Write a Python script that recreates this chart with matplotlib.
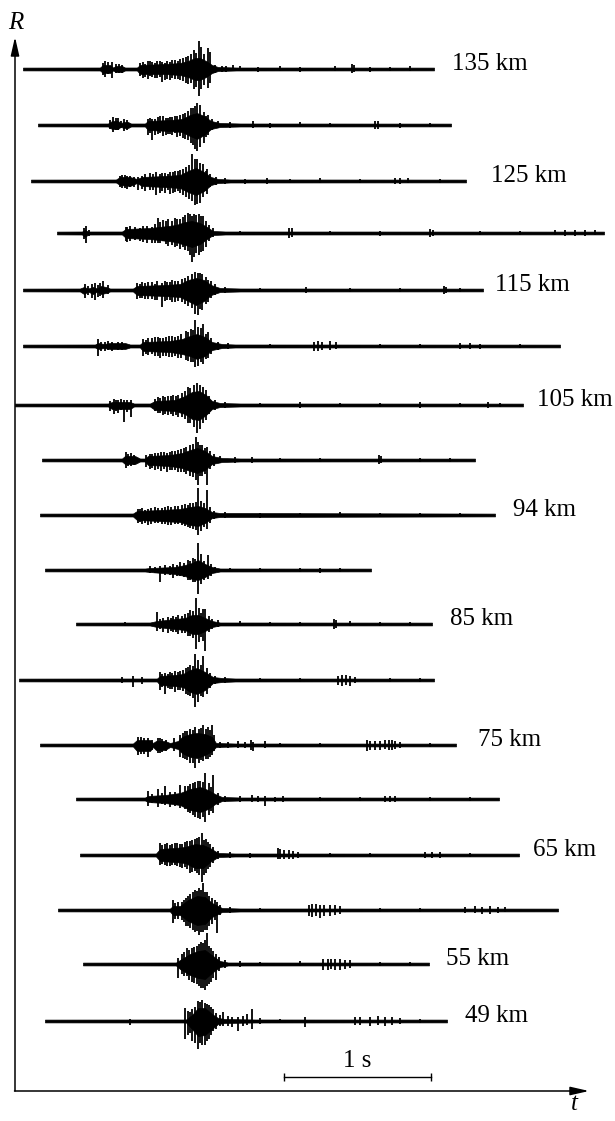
import matplotlib
matplotlib.use("Agg")
import matplotlib.pyplot as plt
import numpy as np

# ---------------- data (time in chart units: 147 units = 1 s; amplitude in trace units) ----
UNITS_PER_S = 147

labels = ["135 km", None, "125 km", None, "115 km", None, "105 km", None, "94 km",
          None, "85 km", None, "75 km", None, "65 km", None, "55 km", "49 km"]

t_start = [23, 38, 31, 57, 23, 23, 15, 42, 40, 45, 76, 19, 40, 76, 80, 58, 83, 45]
t_end = [434, 451, 466, 604, 483, 560, 523, 475, 495, 371, 432, 434, 456, 499, 519, 558, 429, 447]

# dense core envelope (t, up, down) of each trace
env_01 = [(100,1.5,1.5),(103,4,4),(110,4,4),(113,1.5,1.5),(116,3,3),(122,3,3),(125,1.5,1.5),(137,1.5,1.5),(140,4,5),(165,5,5),(180,6,6),(188,8,8),(195,11,11),(200,11,11),(206,8,8),(212,4,4),(218,2,2),(236,1.5,1.5)]
env_02 = [(108,1.5,1.5),(112,4,4),(118,4,4),(121,1.5,1.5),(123,3,3),(128,3,3),(131,1.5,1.5),(145,1.5,1.5),(148,4,5),(170,5,6),(182,6,7),(190,10,11),(197,12,14),(204,9,10),(211,4,4),(220,2,2),(240,1.5,1.5)]
env_03 = [(116,1.5,1.5),(120,4,4),(130,4,5),(137,2,2),(142,4,5),(165,5,6),(180,6,7),(188,10,11),(196,13,14),(204,9,10),(211,4,4),(218,2,2),(230,1.5,1.5)]
env_04 = [(82,1.5,1.5),(85,3,4),(88,1.5,1.5),(122,1.5,1.5),(126,4,5),(150,5,6),(168,7,8),(176,8,9),(185,11,12),(192,12,14),(200,10,11),(207,6,6),(213,2,2),(225,1.5,1.5)]
env_05 = [(80,1.5,1.5),(84,3,4),(88,1.5,1.5),(93,3,4),(97,1.5,1.5),(101,4,4),(106,3,3),(110,1.5,1.5),(133,1.5,1.5),(137,4,5),(165,5,6),(180,6,7),(188,10,11),(196,12,15),(204,10,11),(211,5,5),(220,2,2),(240,1.5,1.5)]
env_06 = [(95,1.5,1.5),(98,3,3),(104,2,2),(110,3,3),(125,3,3),(130,1.5,1.5),(140,1.5,1.5),(143,4,5),(170,5,6),(182,7,8),(190,10,10),(197,12,13),(205,9,10),(212,4,4),(222,2,2),(235,1.5,1.5)]
env_07 = [(108,1.5,1.5),(112,3,4),(130,3,4),(134,1.5,1.5),(150,1.5,1.5),(155,4,5),(175,5,6),(185,9,9),(192,13,14),(199,14,15),(206,10,10),(212,4,4),(220,2,2),(240,1.5,1.5)]
env_08 = [(122,1.5,1.5),(125,4,4),(135,4,4),(140,1.5,1.5),(145,1.5,1.5),(148,4,5),(170,5,6),(182,7,8),(190,10,11),(197,12,13),(205,9,10),(212,4,4),(222,2,2),(240,1.5,1.5)]
env_09 = [(133,1.5,1.5),(137,4,5),(160,5,6),(180,6,7),(190,8,10),(198,9,11),(205,7,8),(212,3,3),(220,2,2)]
env_10 = [(145,1.5,1.5),(150,2,2),(175,3,4),(185,5,6),(192,7,9),(198,10,10),(205,6,7),(212,3,3),(220,1.5,1.5)]
env_11 = [(150,1.5,1.5),(157,3,3),(175,5,5),(185,6,6),(192,9,10),(198,9,10),(205,6,7),(212,3,3),(220,1.5,1.5)]
env_12 = [(120,1.5,1.5),(157,1.5,1.5),(160,4,5),(175,5,6),(183,6,7),(190,10,12),(197,12,14),(205,8,10),(213,3,3),(222,2,2),(235,1.5,1.5)]
env_13 = [(133,1.5,1.5),(137,5,6),(150,5,6),(153,2,2),(156,4,5),(165,4,5),(170,2,2),(178,4,4),(182,8,8),(190,11,12),(197,12,13),(205,11,10),(212,8,6),(216,2,2),(235,1.5,1.5)]
env_14 = [(145,1.5,1.5),(148,3,3),(165,4,4),(180,6,6),(190,10,11),(200,12,13),(208,9,10),(215,5,5),(222,2,2),(240,1.5,1.5)]
env_15 = [(156,1.5,1.5),(160,6,6),(175,7,7),(185,8,8),(195,11,13),(203,10,13),(210,7,7),(218,2,2),(235,1.5,1.5)]
env_16 = [(170,1.5,1.5),(173,4,5),(180,4,5),(188,10,11),(197,14,15),(205,13,14),(212,7,7),(222,2,2),(240,1.5,1.5)]
env_17 = [(176,1.5,1.5),(180,4,5),(190,10,11),(198,13,14),(205,14,15),(213,8,8),(220,3,3),(228,1.5,1.5)]
env_18 = [(186,1.5,1.5),(192,6,8),(198,13,15),(205,13,14),(212,7,8),(218,3,3),(225,2,2),(255,1.5,1.5)]

# individual oscillation peaks (t, up, down)
spk_01 = [(103,6,6),(105,8,8),(108,7,5),(112,7,9),(116,5,4),(119,5,4),(122,4,4),(140,6,7),(143,7,9),(145,5,8),(148,8,10),(150,8,7),(152,7,8),(155,6,9),(157,8,9),(160,8,8),(162,7,13),(165,6,11),(167,8,10),(170,7,11),(172,9,9),(175,9,10),(178,8,10),(180,10,11),(183,11,12),(186,12,14),(188,13,15),(191,15,14),(194,19,20),(196,16,18),(199,28,27),(201,22,20),(204,15,16),(208,21,19),(210,17,14),(215,4,4),(222,3,3),(226,3,3),(233,4,2),(240,3,2),(258,2,3),(280,3,2),(300,2,3),(335,3,2),(352,5,4),(354,4,3),(370,2,3),(390,2,2),(410,3,2)]
spk_02 = [(110,5,4),(113,8,7),(116,7,5),(118,7,5),(121,4,3),(124,6,6),(127,5,5),(148,6,10),(150,7,8),(152,6,15),(155,6,10),(158,8,9),(160,9,8),(163,9,11),(166,7,10),(168,7,9),(170,8,9),(172,8,10),(175,9,8),(177,9,12),(180,10,11),(183,11,13),(185,12,14),(188,14,15),(191,17,18),(193,17,20),(195,19,24),(197,22,26),(200,20,22),(204,13,18),(206,9,12),(208,10,10),(212,6,5),(218,4,3),(230,3,3),(253,4,3),(270,2,3),(300,3,2),(330,2,2),(375,4,4),(378,4,4),(400,2,3),(430,2,2)]
spk_03 = [(120,5,6),(122,6,7),(125,6,7),(127,5,8),(130,5,6),(134,4,6),(138,4,9),(142,5,8),(145,7,10),(150,8,9),(153,7,9),(156,9,14),(160,7,12),(162,8,10),(165,8,12),(168,7,9),(170,9,13),(173,9,12),(175,10,11),(178,10,10),(180,11,12),(183,12,14),(186,14,16),(189,16,18),(192,27,20),(195,22,24),(197,22,23),(200,18,22),(203,17,16),(206,10,10),(207,12,13),(210,7,6),(216,4,4),(225,3,3),(245,2,3),(267,3,3),(290,2,2),(320,3,2),(360,2,2),(395,3,3),(400,3,3),(408,3,2),(440,2,2)]
spk_04 = [(84,5,6),(86,7,10),(89,3,3),(126,6,8),(127,6,9),(130,7,8),(135,6,7),(140,5,8),(143,7,9),(147,7,10),(152,6,10),(155,9,10),(158,15,10),(160,11,10),(163,13,8),(166,12,11),(168,14,13),(172,12,12),(175,15,14),(177,14,13),(180,14,16),(183,16,14),(185,18,17),(188,20,18),(190,19,22),(192,17,29),(194,19,24),(196,18,20),(199,19,22),(201,17,19),(203,17,18),(206,12,14),(209,8,8),(213,5,4),(240,2,2),(289,5,5),(292,5,4),(330,2,2),(380,2,3),(430,4,4),(433,3,3),(480,2,2),(520,2,2),(555,3,2),(565,3,3),(575,3,3),(585,3,3),(595,3,2)]
spk_05 = [(85,6,8),(88,4,5),(92,6,8),(95,7,10),(98,5,7),(100,7,6),(103,9,8),(108,5,4),(137,7,9),(140,6,8),(142,8,8),(145,7,9),(148,8,9),(152,8,9),(155,6,10),(157,9,10),(162,7,17),(165,9,11),(167,8,10),(170,8,10),(172,10,12),(175,9,12),(178,9,11),(182,11,12),(185,12,14),(188,14,16),(192,16,18),(195,18,24),(198,17,25),(200,17,19),(202,16,20),(206,13,14),(208,10,12),(211,9,8),(215,6,5),(225,3,3),(260,2,2),(306,3,3),(350,2,2),(400,2,2),(444,4,4),(446,3,3),(460,2,2)]
spk_06 = [(98,7,10),(101,4,5),(105,4,5),(108,5,4),(112,4,5),(118,4,4),(122,4,4),(143,7,10),(146,6,8),(148,8,9),(152,8,8),(155,9,10),(158,9,10),(160,8,12),(163,8,10),(166,9,10),(169,10,11),(172,10,11),(175,9,10),(178,10,12),(181,12,12),(186,15,14),(188,14,15),(191,17,16),(193,16,16),(195,26,21),(198,19,20),(201,18,16),(203,22,18),(206,12,13),(208,14,12),(211,8,8),(218,4,4),(228,3,3),(270,2,2),(314,4,5),(318,5,5),(322,4,4),(330,5,4),(336,4,3),(380,2,2),(420,2,2),(460,3,3),(470,3,3),(480,2,3),(520,2,2)]
spk_07 = [(110,4,6),(114,6,9),(116,5,6),(118,5,8),(121,6,5),(124,5,17),(127,5,7),(131,5,12),(155,6,6),(158,8,8),(160,7,8),(163,9,10),(165,8,9),(168,9,10),(171,9,9),(173,10,11),(176,9,10),(178,10,12),(182,12,12),(185,14,14),(188,18,18),(190,17,18),(194,20,22),(197,22,28),(200,20,24),(203,18,18),(206,15,15),(209,9,9),(215,5,5),(225,3,3),(260,2,2),(300,3,3),(340,2,2),(380,2,2),(420,3,3),(460,2,2),(488,3,3),(500,2,2)]
spk_08 = [(126,8,8),(128,6,6),(131,7,6),(134,5,5),(146,5,7),(150,6,9),(152,6,8),(155,7,10),(158,7,9),(161,8,11),(164,8,9),(167,7,12),(170,8,10),(172,9,10),(175,9,10),(178,10,12),(181,11,12),(184,12,12),(186,13,14),(190,15,16),(193,16,17),(196,23,20),(198,18,25),(200,15,16),(202,15,16),(205,12,14),(207,13,25),(210,9,9),(214,6,6),(220,4,3),(235,3,3),(252,3,3),(280,2,2),(320,2,2),(379,5,4),(381,4,3),(420,2,2),(450,2,2)]
spk_09 = [(138,6,8),(140,6,7),(142,7,9),(145,5,8),(148,6,10),(151,7,9),(155,8,8),(158,7,8),(162,7,9),(165,8,9),(168,9,10),(171,8,10),(175,9,9),(178,9,9),(182,10,10),(185,11,11),(188,10,12),(190,12,13),(193,12,14),(196,13,15),(198,27,20),(201,14,16),(204,12,12),(207,25,14),(210,8,8),(214,4,4),(225,3,3),(260,2,3),(300,2,2),(340,3,2),(380,2,2),(420,2,2),(460,2,2)]
spk_10 = [(150,4,3),(155,3,3),(160,4,12),(165,5,5),(170,4,5),(173,6,8),(177,5,6),(180,8,6),(184,7,7),(188,10,10),(190,9,10),(193,12,12),(195,11,12),(198,27,24),(201,16,14),(204,9,10),(208,15,9),(211,6,6),(215,3,3),(230,2,2),(260,2,2),(300,2,2),(320,2,3),(340,2,2)]
spk_11 = [(125,2,2),(157,12,7),(160,5,5),(163,6,8),(168,7,9),(171,6,7),(173,8,8),(176,7,8),(178,9,10),(182,8,9),(185,10,9),(188,11,12),(190,14,12),(193,13,14),(196,26,25),(199,16,18),(201,11,13),(203,15,17),(205,15,27),(209,8,8),(212,5,5),(218,4,3),(240,3,2),(270,2,2),(300,2,2),(334,5,5),(336,4,4),(350,3,2),(380,2,2),(410,2,2)]
spk_12 = [(122,3,3),(133,4,7),(142,3,4),(160,8,10),(162,6,7),(165,7,14),(168,6,8),(170,8,9),(172,7,9),(175,9,12),(178,8,10),(180,9,10),(183,10,11),(186,12,14),(188,13,15),(190,15,16),(193,14,18),(195,26,27),(198,20,22),(201,15,16),(203,24,17),(207,12,14),(210,7,8),(215,4,4),(225,3,3),(260,2,2),(300,2,2),(338,4,5),(342,5,6),(346,5,5),(350,4,6),(355,3,3),(390,2,2),(420,2,2)]
spk_13 = [(138,8,10),(141,8,9),(144,7,9),(148,7,12),(152,5,5),(158,7,8),(160,7,8),(162,6,7),(166,5,6),(174,7,6),(180,10,12),(183,12,13),(185,14,14),(187,14,15),(190,16,18),(193,15,18),(195,18,23),(199,16,18),(201,17,15),(203,20,16),(206,16,14),(208,18,14),(210,15,12),(212,20,10),(214,10,6),(220,3,3),(228,3,3),(238,4,3),(245,3,3),(251,5,5),(253,3,6),(265,4,3),(280,2,2),(320,2,2),(367,5,6),(370,4,5),(375,4,5),(380,4,5),(385,5,4),(389,5,5),(392,5,5),(395,4,4),(400,3,3),(430,2,2)]
spk_14 = [(148,8,7),(152,5,4),(158,10,8),(162,6,5),(165,13,6),(170,7,8),(175,7,7),(180,14,9),(185,13,10),(188,13,13),(190,15,14),(193,16,16),(195,17,18),(198,18,19),(200,18,20),(203,17,18),(205,26,23),(209,16,16),(211,12,12),(213,24,14),(218,6,6),(225,3,3),(240,3,3),(252,4,3),(258,3,3),(265,3,7),(275,2,3),(283,3,3),(320,2,2),(360,2,2),(385,3,3),(390,3,3),(395,3,3),(430,2,2),(470,2,2)]
spk_15 = [(160,12,10),(162,10,9),(165,11,10),(167,12,11),(170,10,11),(172,11,10),(175,12,10),(177,12,11),(180,11,12),(182,11,13),(185,13,12),(187,14,14),(190,14,18),(192,15,17),(195,16,16),(197,17,18),(199,18,20),(202,22,27),(204,15,20),(206,16,18),(208,13,14),(210,11,12),(213,8,8),(218,4,4),(230,3,3),(250,2,3),(278,7,4),(280,6,4),(284,5,4),(289,5,4),(293,4,4),(298,3,3),(330,2,2),(370,2,2),(425,3,3),(432,3,3),(440,3,3),(470,2,2)]
spk_16 = [(173,10,13),(175,7,9),(178,8,9),(182,8,10),(184,10,12),(186,12,16),(188,14,16),(190,16,18),(193,18,20),(195,20,22),(197,19,21),(199,22,25),(201,20,22),(203,27,22),(205,18,20),(207,18,20),(209,14,16),(212,12,14),(215,10,10),(217,8,23),(220,5,5),(230,3,3),(260,2,2),(309,5,6),(312,6,7),(316,6,6),(320,5,8),(324,5,6),(330,5,6),(335,5,5),(340,4,4),(380,2,2),(420,2,2),(465,3,3),(475,4,3),(482,3,4),(490,4,4),(498,3,3),(505,3,2)]
spk_17 = [(178,6,14),(182,10,10),(184,12,12),(187,16,12),(189,14,16),(192,16,18),(194,17,19),(197,18,20),(199,20,22),(201,22,24),(203,21,24),(205,24,26),(207,31,22),(209,18,20),(211,16,18),(213,13,14),(216,10,16),(219,7,7),(225,4,4),(240,3,3),(260,2,2),(300,3,2),(323,5,6),(328,5,6),(331,5,5),(335,5,6),(340,5,6),(345,4,5),(350,4,4),(380,2,2),(410,2,2)]
spk_18 = [(130,2,4),(185,13,18),(188,10,14),(190,9,12),(192,12,20),(195,14,22),(198,20,28),(200,19,22),(202,21,24),(205,18,24),(207,17,20),(209,16,18),(211,14,14),(213,12,10),(216,8,8),(220,6,5),(223,9,5),(228,5,5),(232,4,6),(238,4,10),(243,5,5),(247,7,4),(252,12,8),(260,3,3),(280,2,2),(305,4,6),(355,4,4),(360,4,4),(370,4,5),(378,5,4),(385,4,5),(392,4,4),(400,3,3),(420,2,2)]

envelopes = [env_01, env_02, env_03, env_04, env_05, env_06, env_07, env_08, env_09,
             env_10, env_11, env_12, env_13, env_14, env_15, env_16, env_17, env_18]
spikes = [spk_01, spk_02, spk_03, spk_04, spk_05, spk_06, spk_07, spk_08, spk_09,
          spk_10, spk_11, spk_12, spk_13, spk_14, spk_15, spk_16, spk_17, spk_18]

NOISE = 1.4          # background noise half-width
SCALE_BAR_START = 284

# ---------------- layout ----------------
baselines = [69, 125, 181, 233, 290, 346, 405, 460, 515, 570, 624, 680, 745, 799, 855, 910, 964, 1021]
label_x = [452, None, 491, None, 495, None, 537, None, 513, None, 450, None, 478, None, 533, None, 446, 465]
AX_X, AX_Y = 15, 1091

fig = plt.figure(figsize=(6.15, 11.21), dpi=100)
ax = fig.add_axes([0, 0, 1, 1])
ax.set_xlim(0, 615)
ax.set_ylim(1121, 0)
ax.axis("off")

serif = ["Liberation Serif", "DejaVu Serif"]

for i in range(len(baselines)):
    y0 = baselines[i]
    pts = [(t_start[i], NOISE, NOISE)] + envelopes[i] + [(t_end[i], NOISE, NOISE)]
    x = np.array([p[0] for p in pts], float)
    up = np.array([p[1] for p in pts], float)
    dn = np.array([p[2] for p in pts], float)
    ax.fill_between(x, y0 - up, y0 + dn, color="black", lw=0.5, edgecolor="black")
    sx = [s[0] for s in spikes[i]]
    su = [y0 - s[1] for s in spikes[i]]
    sd = [y0 + s[2] for s in spikes[i]]
    ax.vlines(sx, su, sd, color="black", lw=1.3)
    if labels[i]:
        ax.text(label_x[i], y0 + 1, labels[i], fontsize=18, family=serif,
                ha="left", va="baseline")

# axes with arrows
arrow = dict(arrowstyle="-|>,head_length=0.7,head_width=0.16", color="black",
             lw=1.1, mutation_scale=16, shrinkA=0, shrinkB=0)
ax.annotate("", xy=(AX_X, 37), xytext=(AX_X, AX_Y), arrowprops=arrow)
ax.annotate("", xy=(589, AX_Y), xytext=(AX_X - 0.5, AX_Y), arrowprops=arrow)
ax.text(AX_X + 1, 29, "R", fontsize=18, family=serif, style="italic",
        ha="center", va="baseline")
ax.text(574, 1110, "t", fontsize=18, family=serif, style="italic",
        ha="center", va="baseline")

# scale bar 1 s
sb0, sb1 = SCALE_BAR_START, SCALE_BAR_START + UNITS_PER_S
ax.plot([sb0, sb1], [1077, 1077], color="black", lw=1.0)
ax.vlines([sb0, sb1], 1073, 1081, color="black", lw=1.0)
ax.text((sb0 + sb1) / 2, 1067, "1 s", fontsize=18, family=serif, ha="center", va="baseline")

fig.savefig("out.png", dpi=100, facecolor="white")
